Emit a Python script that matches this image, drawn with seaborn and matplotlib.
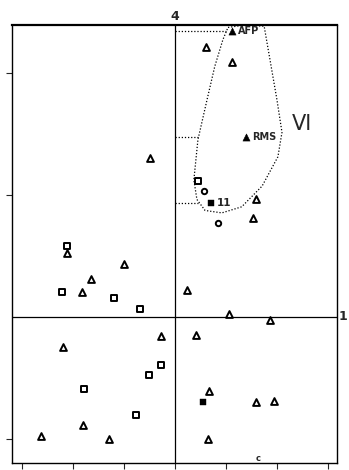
import numpy as np
import pandas as pd
import matplotlib
matplotlib.use("Agg")
import matplotlib.pyplot as plt
import seaborn as sns

# ---- data (ordination scores, axis 1 horizontal, axis 4 vertical) ----
tri_x = [0.61, 1.12, 1.59, 1.53, -0.49, -2.12, -1.00, -1.65, -1.82, -0.27, -2.20,
         -1.80, -2.63, -1.29, 0.24, 1.06, 1.86, 0.41, 0.67, 1.59, 1.94, 0.65]
tri_y = [2.21, 2.09, 0.96, 0.81, 1.30, 0.52, 0.43, 0.31, 0.20, -0.16, -0.25,
         -0.89, -0.98, -1.00, 0.22, 0.02, -0.03, -0.15, -0.61, -0.70, -0.69, -1.00]
sq_x = [0.45, -2.12, -2.22, -1.20, -0.69, -0.27, -0.51, -1.78, -0.76]
sq_y = [1.11, 0.58, 0.20, 0.15, 0.06, -0.40, -0.48, -0.59, -0.81]
circ_x = [0.57, 0.84]
circ_y = [1.03, 0.77]
ftri_x = [1.12, 1.39]
ftri_y = [2.34, 1.47]
ftri_lab = ["AFP", "RMS"]
fsq_x = [0.71, 0.55]
fsq_y = [0.93, -0.70]
fsq_lab = ["11", ""]
env_x = [1.04, 1.37, 1.75, 2.00, 2.10, 2.02, 1.71, 1.31, 0.92, 0.59, 0.43, 0.37, 0.45, 0.63, 0.78, 0.94, 1.04]
env_y = [2.37, 2.39, 2.38, 1.78, 1.51, 1.31, 1.07, 0.90, 0.85, 0.87, 0.96, 1.12, 1.45, 1.78, 2.05, 2.27, 2.37]
lead_y = [2.34, 1.47, 0.93]
lead_x = [1.00, 0.45, 0.45]

sns.set_style("white")
plt.rcParams['font.family'] = ['DejaVu Sans']

fig = plt.figure(figsize=(3.49, 4.70), dpi=100)
ax = fig.add_axes([12/349, 1-463/470, 325/349, 438/470])

kw = dict(ax=ax, legend=False, zorder=3)
sns.scatterplot(data=pd.DataFrame({"x": tri_x, "y": tri_y}), x="x", y="y", marker="^",
                s=24, facecolor="white", edgecolor="black", linewidth=1.4, **kw)
sns.scatterplot(data=pd.DataFrame({"x": sq_x, "y": sq_y}), x="x", y="y", marker="s",
                s=15, facecolor="white", edgecolor="black", linewidth=1.4, **kw)
sns.scatterplot(data=pd.DataFrame({"x": circ_x, "y": circ_y}), x="x", y="y", marker="o",
                s=15, facecolor="white", edgecolor="black", linewidth=1.4, **kw)
sns.scatterplot(data=pd.DataFrame({"x": ftri_x, "y": ftri_y}), x="x", y="y", marker="^",
                s=26, color="black", edgecolor="black", **kw)
sns.scatterplot(data=pd.DataFrame({"x": fsq_x, "y": fsq_y}), x="x", y="y", marker="s",
                s=14, color="black", edgecolor="black", **kw)

for x, y, t in zip(ftri_x, ftri_y, ftri_lab):
    ax.text(x + 0.12, y, t, fontsize=7, fontweight="bold", va="center", ha="left")
for x, y, t in zip(fsq_x, fsq_y, fsq_lab):
    ax.text(x + 0.12, y, t, fontsize=7.5, fontweight="bold", va="center", ha="left")
ax.text(1.63, -1.16, "c", fontsize=6, fontweight="bold", ha="center", va="center")

sns.lineplot(x=env_x, y=env_y, sort=False, ax=ax, color="black", linestyle=(0, (1, 1.5)),
             linewidth=0.9, estimator=None)
for y, x in zip(lead_y, lead_x):
    ax.plot([0, x], [y, y], color="black", linestyle=(0, (1, 1.5)), linewidth=0.9)

ax.text(2.5, 1.58, "VI", fontsize=15, ha="center", va="center")

ax.axhline(0, color="black", linewidth=0.9)
ax.axvline(0, color="black", linewidth=0.9)

ax.set_xlim(-3.2, 3.18)
ax.set_ylim(-1.2, 2.39)
ax.set_xticks([-3, -2, -1, 0, 1, 2, 3])
ax.set_yticks([-1, 1, 2])
ax.set_xticklabels([])
ax.set_yticklabels([])
ax.tick_params(axis="both", direction="out", length=4, width=0.8, bottom=True, left=True)
ax.set_xlabel("")
ax.set_ylabel("")
for s in ax.spines.values():
    s.set_color("black")
    s.set_linewidth(1.0)
ax.spines["top"].set_linewidth(1.6)

ax.text(0, 1.005, "4", transform=ax.get_xaxis_transform(), fontsize=9, fontweight="bold",
        ha="center", va="bottom")
ax.text(1.006, 0, "1", transform=ax.get_yaxis_transform(), fontsize=9, fontweight="bold",
        ha="left", va="center")

fig.savefig("out.png", dpi=100)
